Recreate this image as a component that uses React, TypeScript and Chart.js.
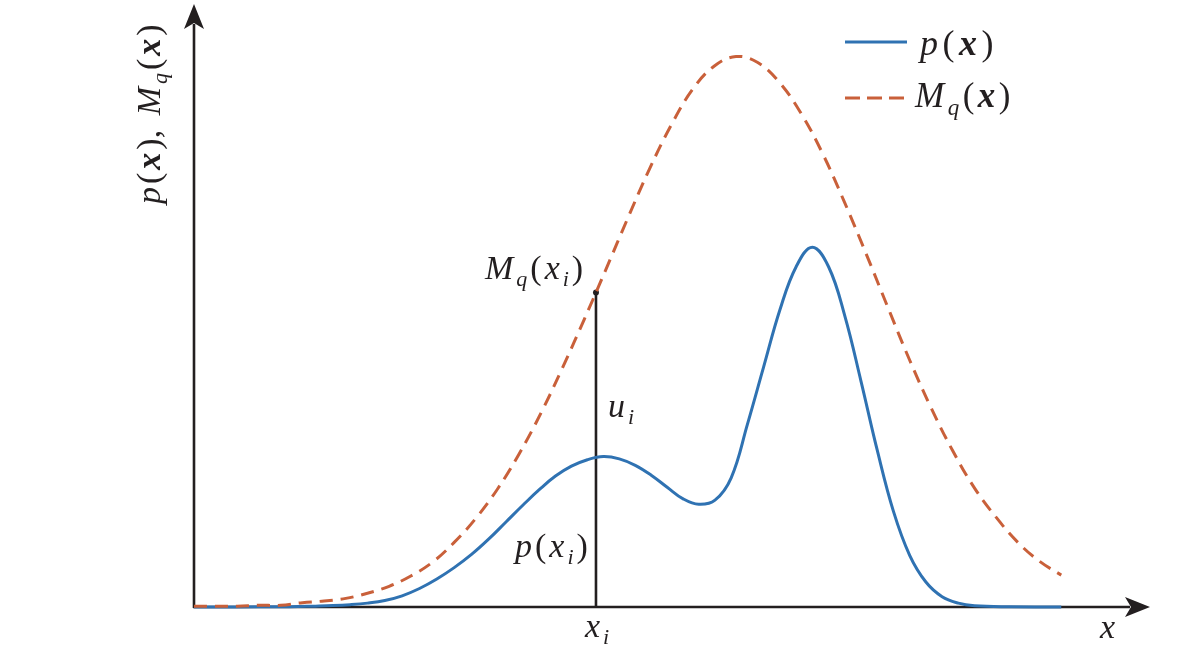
import React, { useEffect, useRef } from "react";
import { Chart, registerables } from "chart.js";

Chart.register(...registerables);

// ---- data (arbitrary units) ----
const mqX = [0, 0.25, 0.5, 0.75, 1, 1.25, 1.5, 1.75, 2, 2.25, 2.5, 2.75, 3, 3.25, 3.5, 3.75, 4, 4.25, 4.5, 4.75, 5, 5.25, 5.5, 5.75, 6, 6.25, 6.5, 6.75, 7, 7.25, 7.5, 7.75, 8, 8.25, 8.5, 8.75, 9, 9.25, 9.5, 9.75, 10];
const mqY = [0.01, 0.01, 0.01, 0.02, 0.02, 0.05, 0.07, 0.1, 0.16, 0.24, 0.36, 0.52, 0.75, 1.03, 1.37, 1.78, 2.25, 2.78, 3.34, 3.92, 4.51, 5.08, 5.59, 6.01, 6.28, 6.39, 6.32, 6.09, 5.73, 5.26, 4.7, 4.1, 3.48, 2.87, 2.31, 1.81, 1.38, 1.04, 0.75, 0.53, 0.37];

const pX = [0, 0.5, 1.0, 1.2, 1.4, 1.6, 1.8, 2.0, 2.2, 2.4, 2.6, 2.8, 3.0, 3.2, 3.4, 3.6, 3.8, 3.984, 4.168, 4.352, 4.536, 4.72, 4.904, 5.088, 5.272, 5.456, 5.64, 5.82, 6.007, 6.194, 6.381, 6.569, 6.756, 6.943, 7.13, 7.317, 7.504, 7.691, 7.878, 8.065, 8.252, 8.439, 8.626, 8.813, 9.0, 9.4, 10];
const pY = [0, 0.001, 0.003, 0.006, 0.01, 0.016, 0.027, 0.045, 0.075, 0.13, 0.215, 0.325, 0.457, 0.61, 0.79, 0.99, 1.19, 1.365, 1.52, 1.635, 1.71, 1.747, 1.72, 1.645, 1.53, 1.39, 1.255, 1.192, 1.24, 1.5, 2.12, 2.79, 3.45, 3.95, 4.177, 3.95, 3.38, 2.62, 1.82, 1.11, 0.6, 0.29, 0.12, 0.045, 0.015, 0.003, 0];

const xi = 4.635;
const mqAtXi = 3.65;
const xAxisMax = 11;
const yAxisMax = 7;

const BLUE = "#2f72b2";
const ORANGE = "#c9603a";
const INK = "#231f20";
const SERIF = '"Liberation Serif", "Times New Roman", Tinos, serif';
const FS = 34;

type Part = { t: string; b?: boolean; sub?: boolean; up?: boolean };

function drawMath(ctx: CanvasRenderingContext2D, x: number, y: number, parts: Part[], size: number, gap: number) {
  let cx = x;
  ctx.fillStyle = INK;
  ctx.textBaseline = "alphabetic";
  ctx.textAlign = "left";
  for (const p of parts) {
    const fs = Math.round(p.sub ? size * 0.66 : size);
    ctx.font = `${p.up ? "" : "italic "}${p.b ? "bold " : ""}${fs}px ${SERIF}`;
    const dy = p.sub ? size * 0.22 : 0;
    ctx.fillText(p.t, cx, y + dy);
    cx += ctx.measureText(p.t).width + gap;
  }
  return cx - x;
}

function arrowHead(ctx: CanvasRenderingContext2D, tx: number, ty: number, dir: "up" | "right") {
  const len = 25, half = 10, notch = 6;
  ctx.beginPath();
  if (dir === "right") {
    ctx.moveTo(tx, ty);
    ctx.lineTo(tx - len, ty - half);
    ctx.lineTo(tx - len + notch, ty);
    ctx.lineTo(tx - len, ty + half);
  } else {
    ctx.moveTo(tx, ty);
    ctx.lineTo(tx - half, ty + len);
    ctx.lineTo(tx, ty + len - notch);
    ctx.lineTo(tx + half, ty + len);
  }
  ctx.closePath();
  ctx.fill();
}

const axesPlugin = {
  id: "axesArrows",
  beforeDatasetsDraw(chart: any) {
    const ctx: CanvasRenderingContext2D = chart.ctx;
    const xs = chart.scales.x, ys = chart.scales.y;
    const x0 = xs.getPixelForValue(0), y0 = ys.getPixelForValue(0);
    const xt = xs.getPixelForValue(xAxisMax) + 2, yt = ys.getPixelForValue(yAxisMax);
    ctx.save();
    ctx.strokeStyle = INK;
    ctx.fillStyle = INK;
    ctx.lineWidth = 2.6;
    ctx.beginPath();
    ctx.moveTo(x0, y0 + 1);
    ctx.lineTo(x0, yt + 20);
    ctx.moveTo(x0 - 1, y0);
    ctx.lineTo(xt - 20, y0);
    ctx.stroke();
    arrowHead(ctx, x0, yt, "up");
    arrowHead(ctx, xt, y0, "right");
    ctx.restore();
  },
  afterDraw(chart: any) {
    const ctx: CanvasRenderingContext2D = chart.ctx;
    ctx.save();
    // legend
    ctx.lineWidth = 3;
    ctx.strokeStyle = BLUE;
    ctx.beginPath();
    ctx.moveTo(845, 42);
    ctx.lineTo(907, 42);
    ctx.stroke();
    ctx.strokeStyle = ORANGE;
    ctx.setLineDash([15, 7]);
    ctx.beginPath();
    ctx.moveTo(845, 98);
    ctx.lineTo(907, 98);
    ctx.stroke();
    ctx.setLineDash([]);
    const gap = 3;
    drawMath(ctx, 920, 55, [{ t: "p" }, { t: "(", up: true }, { t: "x", b: true }, { t: ")", up: true }], 36, 4.5);
    drawMath(ctx, 915, 107, [{ t: "M" }, { t: "q", sub: true }, { t: "(", up: true }, { t: "x", b: true }, { t: ")", up: true }], 35, 3.5);
    // y axis label
    ctx.save();
    ctx.translate(160, 204);
    ctx.rotate(-Math.PI / 2);
    drawMath(ctx, 0, 0, [
      { t: "p" }, { t: "(", up: true }, { t: "x", b: true }, { t: "),", up: true }, { t: " ", up: true },
      { t: "M" }, { t: "q", sub: true }, { t: "(", up: true }, { t: "x", b: true }, { t: ")", up: true },
    ], FS, gap);
    ctx.restore();
    // annotations
    drawMath(ctx, 485, 279, [{ t: "M" }, { t: "q", sub: true }, { t: "(", up: true }, { t: "x" }, { t: "i", sub: true }, { t: ")", up: true }], FS, gap);
    drawMath(ctx, 608, 417, [{ t: "u" }, { t: "i", sub: true }], FS, gap);
    drawMath(ctx, 515, 557, [{ t: "p" }, { t: "(", up: true }, { t: "x" }, { t: "i", sub: true }, { t: ")", up: true }], FS, gap);
    drawMath(ctx, 585, 637, [{ t: "x" }, { t: "i", sub: true }], FS, gap);
    drawMath(ctx, 1100, 638, [{ t: "x" }], FS, gap);
    ctx.restore();
  },
};

export default function App() {
  const ref = useRef<HTMLCanvasElement | null>(null);
  useEffect(() => {
    if (!ref.current) return;
    const chart = new Chart(ref.current, {
      type: "line",
      data: {
        datasets: [
          {
            label: "Mq(x)",
            data: mqX.map((x, i) => ({ x, y: mqY[i] })),
            borderColor: ORANGE,
            borderWidth: 3,
            borderDash: [13, 8],
            pointRadius: 0,
            tension: 0.4,
            clip: false,
          },
          {
            label: "p(x)",
            data: pX.map((x, i) => ({ x, y: pY[i] })),
            borderColor: BLUE,
            borderWidth: 3,
            pointRadius: 0,
            tension: 0.4,
            clip: false,
          },
          {
            label: "xi",
            data: [{ x: xi, y: 0 }, { x: xi, y: mqAtXi }],
            borderColor: INK,
            backgroundColor: INK,
            borderWidth: 2.6,
            pointRadius: [0, 3],
            pointBackgroundColor: INK,
            pointBorderWidth: 0,
            clip: false,
          },
        ],
      },
      options: {
        animation: false,
        responsive: false,
        events: [],
        layout: { padding: { left: 194, right: 33, top: 2, bottom: 53 } },
        scales: {
          x: { type: "linear", min: 0, max: xAxisMax, display: false },
          y: { type: "linear", min: 0, max: yAxisMax, display: false },
        },
        plugins: { legend: { display: false }, tooltip: { enabled: false } },
      } as any,
      plugins: [axesPlugin],
    });
    return () => chart.destroy();
  }, []);
  return (
    <div style={{ position: "absolute", left: 0, top: 0, width: 1181, height: 660, background: "#fff" }}>
      <canvas ref={ref} width={1181} height={660} style={{ width: 1181, height: 660, display: "block" }} />
    </div>
  );
}
